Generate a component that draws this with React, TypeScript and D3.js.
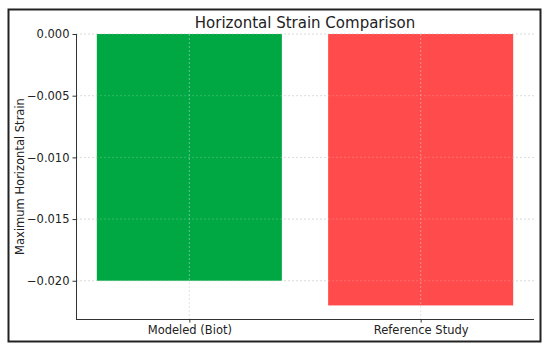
import React, { useEffect, useRef } from 'react'
import * as d3 from 'd3'

const categories = ['Modeled (Biot)', 'Reference Study']
const strainValues = [-0.02, -0.022]
const barColors = ['#00a843', '#ff4b4b']
const yTicks = [0, -0.005, -0.01, -0.015, -0.02]

const W = 550
const H = 349
const font = 'DejaVu Sans, sans-serif'

export default function App() {
  const ref = useRef<SVGSVGElement | null>(null)

  useEffect(() => {
    const svg = d3.select(ref.current)
    svg.selectAll('*').remove()

    const left = 76, right = 534, top = 34, bottom = 319

    // outer frame
    svg.append('rect').attr('x', 8.5).attr('y', 9.5).attr('width', 532).attr('height', 332)
      .attr('fill', '#fff').attr('stroke', '#222').attr('stroke-width', 2)

    const x = d3.scaleLinear().domain([-0.49, 1.49]).range([left, right])
    const y = d3.scaleLinear().domain([0, -0.0231]).range([top, bottom])

    // grid
    svg.append('g').selectAll('line').data(yTicks).enter().append('line')
      .attr('x1', left).attr('x2', right)
      .attr('y1', d => y(d)).attr('y2', d => y(d))
      .attr('stroke', '#ccc').attr('stroke-width', 0.8).attr('stroke-dasharray', '2,2')

    // bars
    svg.append('g').selectAll('rect').data(strainValues).enter().append('rect')
      .attr('x', (d, i) => x(i - 0.4))
      .attr('width', x(0.8) - x(0))
      .attr('y', y(0))
      .attr('height', d => y(d) - y(0))
      .attr('fill', (d, i) => barColors[i])

    // grid over bars
    svg.append('g').selectAll('line').data(yTicks).enter().append('line')
      .attr('x1', left).attr('x2', right)
      .attr('y1', d => y(d)).attr('y2', d => y(d))
      .attr('stroke', '#fff').attr('stroke-opacity', 0.25).attr('stroke-width', 0.8).attr('stroke-dasharray', '2,2')
    svg.append('g').selectAll('line').data(categories).enter().append('line')
      .attr('x1', (d, i) => x(i)).attr('x2', (d, i) => x(i))
      .attr('y1', top).attr('y2', bottom)
      .attr('stroke', '#ccc').attr('stroke-opacity', 0.7).attr('stroke-width', 0.8).attr('stroke-dasharray', '2,2')

    // axes
    const yAxis = svg.append('g').attr('transform', `translate(${left},0)`)
      .call(d3.axisLeft(y).tickValues(yTicks).tickFormat(d3.format('.3f')).tickSize(3.5).tickPadding(3))
    const xAxis = svg.append('g').attr('transform', `translate(0,${bottom})`)
      .call(d3.axisBottom(x).tickValues([0, 1]).tickFormat((d: any) => categories[+d]).tickSize(3.5).tickPadding(3))
    for (const a of [yAxis, xAxis]) {
      a.select('.domain').attr('stroke', '#333').attr('stroke-width', 1)
      a.selectAll('.tick line').attr('stroke', '#333')
      a.selectAll('text').attr('font-family', font).attr('font-size', 11.5).attr('fill', '#222')
    }
    xAxis.select('.domain').attr('d', `M${left},0.5H${right}`)
    yAxis.select('.domain').attr('d', `M0.5,${top}V${bottom}`)

    svg.append('text').attr('x', (left + right) / 2).attr('y', 28).attr('text-anchor', 'middle')
      .attr('font-family', font).attr('font-size', 15).attr('fill', '#222').text('Horizontal Strain Comparison')

    svg.append('text').attr('transform', `translate(24,${(top + bottom) / 2}) rotate(-90)`)
      .attr('text-anchor', 'middle').attr('font-family', font).attr('font-size', 11.5).attr('fill', '#222')
      .text('Maximum Horizontal Strain')
  }, [])

  return <svg ref={ref} width={W} height={H} style={{ position: 'absolute', left: 0, top: 0, background: '#fff' }} />
}
